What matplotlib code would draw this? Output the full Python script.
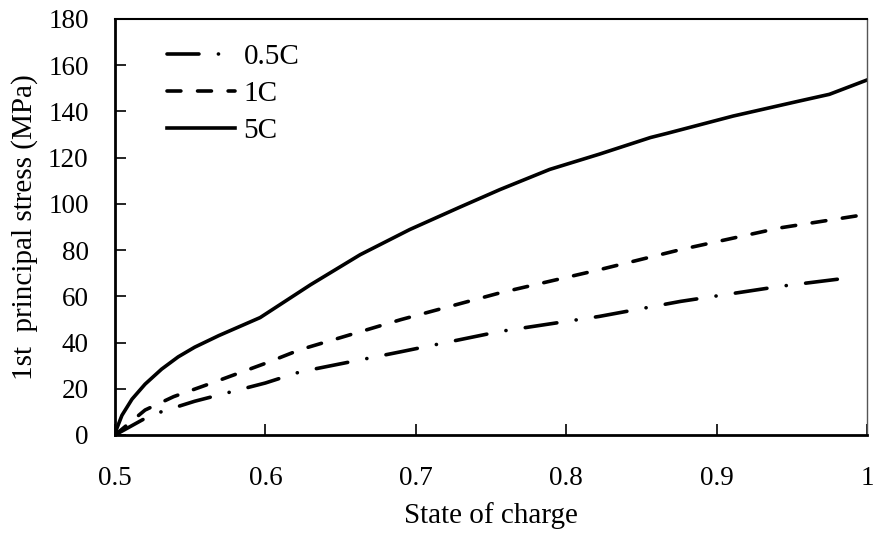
import matplotlib
matplotlib.use('Agg')
from matplotlib import pyplot as plt

plt.rcParams['font.family'] = ['Liberation Serif', 'DejaVu Serif']
plt.rcParams['lines.scale_dashes'] = False

# state of charge vs 1st principal stress (MPa)
soc_05c = [0.5, 0.52, 0.531, 0.553, 0.6, 0.623, 0.69, 0.756, 0.822, 0.876, 0.942, 0.988]
stress_05c = [0.0, 7.2, 10.1, 14.6, 22.5, 27.3, 36.0, 44.8, 51.3, 57.8, 64.3, 68.0]

soc_1c = [0.5, 0.52, 0.539, 0.564, 0.6, 0.623, 0.69, 0.756, 0.822, 0.876, 0.942, 1.0]
stress_1c = [0.0, 10.8, 16.6, 22.4, 31.0, 36.9, 49.9, 61.5, 71.5, 80.2, 89.6, 95.5]

soc_5c = [0.5, 0.501, 0.5046, 0.5113, 0.52, 0.531, 0.542, 0.553, 0.569, 0.5965, 0.63,
          0.663, 0.696, 0.729, 0.756, 0.789, 0.822, 0.856, 0.867, 0.911, 0.955, 0.975, 1.0]
stress_5c = [0.0, 2.5, 8.5, 15.5, 22.0, 28.5, 33.8, 38.0, 43.0, 50.8, 65.0,
             78.0, 88.9, 98.5, 106.2, 114.9, 121.5, 128.7, 130.5, 138.0, 144.5, 147.4, 153.6]

fig = plt.figure(figsize=(8.74, 5.33), dpi=100)
ax = fig.add_axes([0.1316, 0.1839, 0.8604, 0.7805])

lw = 2.6
ax.plot(soc_05c, stress_05c, color='k', linewidth=lw, dashes=(23, 14, 0.1, 14),
        dash_capstyle='round', label='0.5C')
ax.plot(soc_1c, stress_1c, color='k', linewidth=lw, dashes=(10, 12),
        dash_capstyle='round', label='1C')
ax.plot(soc_5c, stress_5c, color='k', linewidth=lw, label='5C')

ax.set_xlim(0.5, 1.0)
ax.set_ylim(0, 180)
ax.set_xticks([0.5, 0.6, 0.7, 0.8, 0.9, 1.0])
ax.set_xticklabels(['0.5', '0.6', '0.7', '0.8', '0.9', '1'])
ax.set_yticks(range(0, 181, 20))

ax.tick_params(direction='in', length=8, width=1.2, labelsize=19.5)
ax.tick_params(axis='y', pad=19)
ax.tick_params(axis='x', pad=22)
for side in ['left', 'bottom']:
    ax.spines[side].set_linewidth(2.0)
ax.spines['top'].set_linewidth(1.5)
ax.spines['right'].set_linewidth(1.0)
ax.spines['right'].set_color('#555555')

ax.set_xlabel('State of charge', fontsize=21, labelpad=8)
ax.set_ylabel('1st  principal stress (MPa)', fontsize=21, labelpad=7)

ax.legend(loc='upper left', bbox_to_anchor=(0.069, 0.94), frameon=False,
          borderpad=0, borderaxespad=0,
          fontsize=21, handlelength=2.35, handletextpad=0.28, labelspacing=0.36)

plt.savefig('out.png', dpi=100)
